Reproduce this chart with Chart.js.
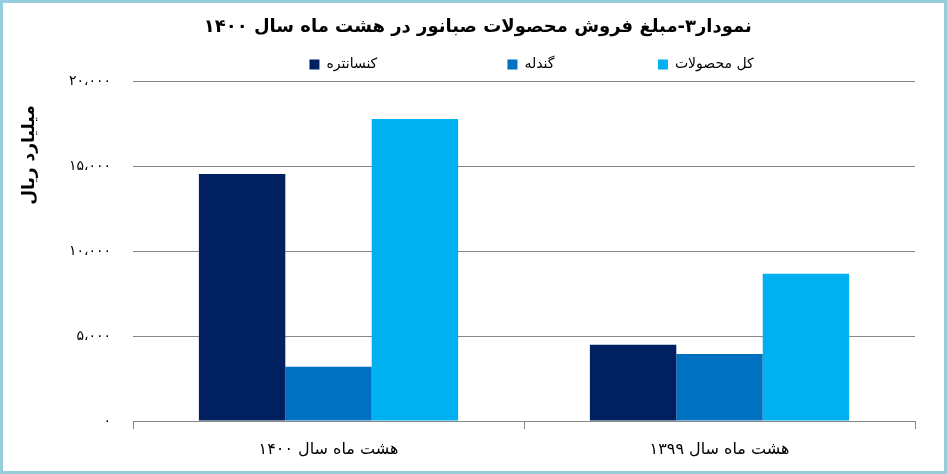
<!DOCTYPE html>
<html>
<head>
<meta charset="utf-8">
<script src="https://cdn.jsdelivr.net/npm/chart.js@4"></script>
<style>
  html, body { margin: 0; padding: 0; background: #fff; }
  #frame { width: 947px; height: 474px; box-sizing: border-box; border: 3px solid #96cddd; background: #fff; }
  #wrap { position: relative; width: 941px; height: 468px; }
</style>
</head>
<body>
<div id="frame"><div id="wrap"><canvas id="chart"></canvas></div></div>
<script>
// دسته ها و مقادیر (میلیارد ریال)
const categories = ['هشت ماه سال ۱۴۰۰', 'هشت ماه سال ۱۳۹۹'];
const konsantreh = [14550, 4490];
const gandola = [3190, 3950];
const kolMahsulat = [17790, 8680];
const yTickLabels = ['۰', '۵،۰۰۰', '۱۰،۰۰۰', '۱۵،۰۰۰', '۲۰،۰۰۰'];

const FONT = '"DejaVu Sans", sans-serif';
const NBSP = '\u00A0';
// فاصله بین آیتم های راهنما (تعداد فاصله بعد از هر متن)
const legendGaps = [27, 21, 34];

new Chart(document.getElementById('chart'), {
    type: 'bar',
    data: {
        labels: categories,
        datasets: [
            { label: 'کنسانتره', data: konsantreh, backgroundColor: '#002060' },
            { label: 'گندله', data: gandola, backgroundColor: '#0070c0' },
            { label: 'کل محصولات', data: kolMahsulat, backgroundColor: '#00b0f0' }
        ]
    },
    options: {
        responsive: true,
        maintainAspectRatio: false,
        animation: false,
        layout: { padding: { left: 0, right: 29, top: 10, bottom: 0 } },
        datasets: {
            bar: { categoryPercentage: 0.663, barPercentage: 1.0 }
        },
        plugins: {
            title: {
                display: true,
                text: NBSP.repeat(6) + 'نمودار۳-مبلغ فروش محصولات صبانور در هشت ماه سال ۱۴۰۰',
                color: '#000',
                font: { family: FONT, size: 18, weight: 'bold' },
                padding: { top: 4, bottom: 9 }
            },
            legend: {
                position: 'top',
                align: 'end',
                fullSize: false,
                labels: {
                    color: '#000',
                    font: { family: FONT, size: 14 },
                    boxWidth: 10,
                    boxHeight: 10,
                    padding: 10,
                    generateLabels: (chart) => {
                        const items = Chart.defaults.plugins.legend.labels.generateLabels(chart);
                        items.forEach((it, i) => { it.text = it.text + NBSP.repeat(legendGaps[i]); });
                        return items;
                    }
                }
            },
            tooltip: { enabled: false }
        },
        scales: {
            x: {
                offset: true,
                grid: {
                    offset: true,
                    drawOnChartArea: false,
                    color: '#868686',
                    tickLength: 8
                },
                border: { display: true, color: '#868686' },
                ticks: {
                    color: '#000',
                    font: { family: FONT, size: 16, lineHeight: 1.0 },
                    padding: 13
                }
            },
            y: {
                min: 0,
                max: 20000,
                ticks: {
                    stepSize: 5000,
                    color: '#000',
                    font: { family: FONT, size: 14 },
                    padding: 22,
                    callback: (v, i) => yTickLabels[i]
                },
                grid: { color: '#868686', drawTicks: false },
                border: { display: false },
                title: {
                    display: true,
                    text: 'میلیارد ریال' + NBSP.repeat(4),
                    align: 'end',
                    color: '#000',
                    font: { family: FONT, size: 17, weight: 'bold' },
                    padding: { top: 16, bottom: 0 }
                },
                afterFit: (scale) => { scale.width = 130; }
            }
        }
    }
});
</script>
</body>
</html>
